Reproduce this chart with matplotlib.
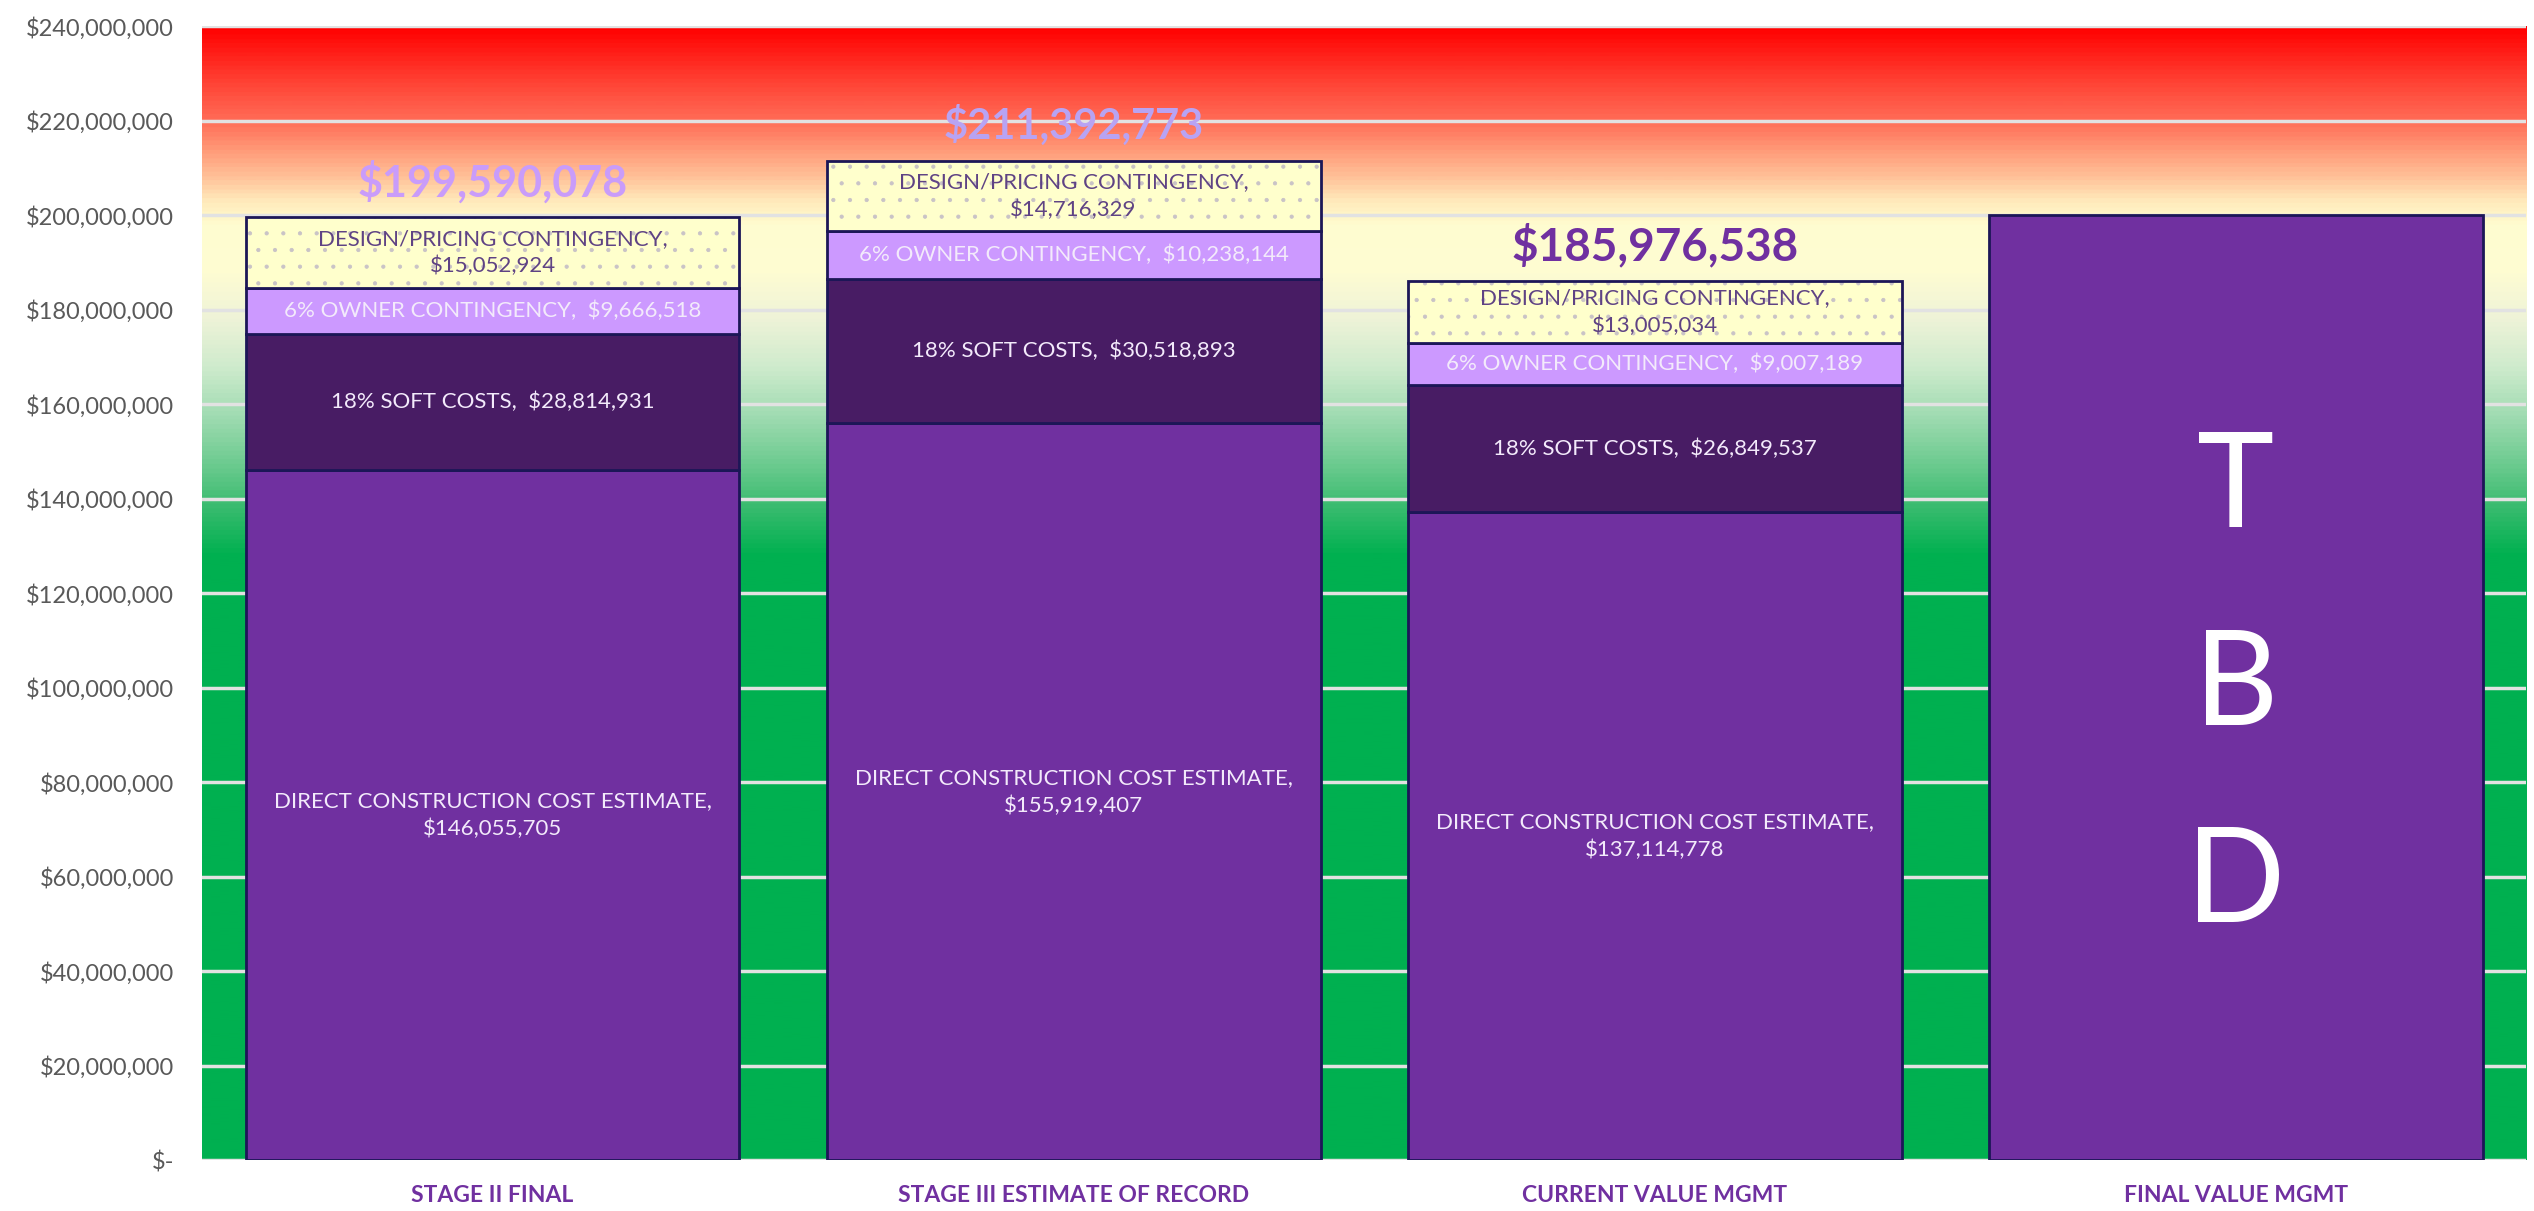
import numpy as np
import matplotlib
matplotlib.use("Agg")
import matplotlib.pyplot as plt
from matplotlib.colors import LinearSegmentedColormap, Normalize
from matplotlib.ticker import FuncFormatter, FixedLocator

plt.rcParams['font.family'] = ['Lato', 'DejaVu Sans']
plt.rcParams['hatch.linewidth'] = 0.6

# ---------------- data ----------------
categories = ["STAGE II FINAL", "STAGE III ESTIMATE OF RECORD",
              "CURRENT VALUE MGMT", "FINAL VALUE MGMT"]
direct_cost = [146055705, 155919407, 137114778]
soft_costs = [28814931, 30518893, 26849537]
owner_contingency = [9666518, 10238144, 9007189]
design_contingency = [15052924, 14716329, 13005034]
totals = [199590078, 211392773, 185976538]
tbd_value = 200000000
tbd_text = "T\nB\nD"
segment_names = ["DIRECT CONSTRUCTION COST ESTIMATE", "18% SOFT COSTS",
                 "6% OWNER CONTINGENCY", "DESIGN/PRICING CONTINGENCY"]
y_ticks = list(range(0, 240000001, 20000000))
y_max = 240000000

# ---------------- style ----------------
c_direct = "#7030A0"
c_soft = "#481C64"
c_owner = "#CC99FF"
c_design = "#FFFFCC"
c_edge = "#1C1657"
c_light_text = "#F3EAFB"
c_design_text = "#5F4384"
total_colors = ["#C99CFA", "#B8A3F3", "#7030A0"]
total_sizes = [31, 30, 33]

fig = plt.figure(figsize=(25.34, 12.11), dpi=100)
ax = fig.add_axes([0.0797, 0.042, 0.9173, 0.9365])

# background gradient
stops = [(0, "#00B050"), (128, "#00B050"), (138, "#38BB6E"), (148, "#70CC92"),
         (158, "#A2DCB3"), (168, "#CFEBCD"), (178, "#EEF3D8"), (188, "#FEFCD2"),
         (198, "#FFFDD0"), (203, "#FFEBBC"), (208, "#FFC39A"), (214, "#FF9A78"),
         (220, "#FF6E58"), (228, "#FF4436"), (240, "#FF0000")]
cmap = LinearSegmentedColormap.from_list(
    "bg", [(v / 240.0, c) for v, c in stops])
vals = np.linspace(0, y_max, 1200)[:, None]
ax.imshow(cmap(Normalize(0, y_max)(vals)), extent=(-0.5, 3.5, 0, y_max),
          origin="lower", aspect="auto", zorder=0, interpolation="bilinear")

x = np.arange(len(categories))
w = 0.85
n = len(direct_cost)
xs = x[:n]

bottom = np.zeros(n)
seg_data = [direct_cost, soft_costs, owner_contingency]
seg_colors = [c_direct, c_soft, c_owner]
for i, (data, col) in enumerate(zip(seg_data, seg_colors)):
    ax.bar(xs, data, w, bottom=bottom, color=col, edgecolor=c_edge,
           linewidth=2, zorder=2)
    for xi, b, v in zip(xs, bottom, data):
        sep = ",\n" if i == 0 else ",  "
        ax.text(xi, b + v / 2, f"{segment_names[i]}{sep}${v:,.0f}",
                ha="center", va="center", color=c_light_text, fontsize=16,
                linespacing=1.45, zorder=5)
    bottom = bottom + np.array(data)

# design contingency with dotted pattern
ax.bar(xs, design_contingency, w, bottom=bottom, color=c_design,
       edgecolor="#C9C3C6", linewidth=0, hatch=".", zorder=2)
ax.bar(xs, design_contingency, w, bottom=bottom, fill=False,
       edgecolor=c_edge, linewidth=2, zorder=3)
for xi, b, v in zip(xs, bottom, design_contingency):
    ax.text(xi, b + v / 2, f"{segment_names[3]},\n${v:,.0f}",
            ha="center", va="center", color=c_design_text, fontsize=16,
            linespacing=1.45, zorder=5)

# totals
for xi, t, col, fs in zip(xs, totals, total_colors, total_sizes):
    ax.text(xi, t + 7.5e6, f"${t:,.0f}", ha="center", va="center",
            color=col, fontsize=fs, fontweight="bold", zorder=5)

# TBD bar
ax.bar(x[3], tbd_value, w, color=c_direct, edgecolor=c_edge, linewidth=2,
       zorder=2)
ax.text(x[3], tbd_value / 2, tbd_text, ha="center", va="center",
        color="white", fontsize=94, linespacing=1.8, zorder=5)

# axes styling
ax.set_xlim(-0.5, 3.5)
ax.set_ylim(0, y_max)
ax.yaxis.set_major_locator(FixedLocator(y_ticks))
ax.yaxis.set_major_formatter(FuncFormatter(
    lambda v, p: "$-" if v == 0 else f"${v:,.0f}"))
ax.set_xticks(x)
ax.set_xticklabels(categories, fontsize=16.5, fontweight="bold", color=c_direct)
ax.tick_params(axis="x", length=0, pad=18)
ax.tick_params(axis="y", length=0, pad=20, labelsize=17, labelcolor="#595959")
ax.set_axisbelow(True)
ax.yaxis.grid(True, color="#E2E2E2", linewidth=2.5)
for s in ax.spines.values():
    s.set_visible(False)

fig.savefig("out.png", dpi=100, facecolor="white")
